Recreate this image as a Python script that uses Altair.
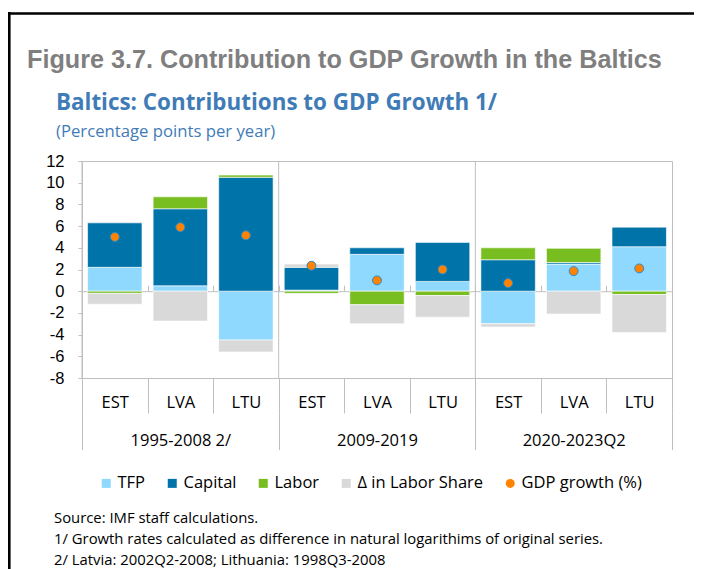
import altair as alt
import pandas as pd

# ---------------- data ----------------
periods = ["1995-2008 2/", "2009-2019", "2020-2023Q2"]
countries = ["EST", "LVA", "LTU"]
tfp = [2.2, 0.5, -4.5, 0.1, 3.4, 0.9, -3.0, 2.5, 4.1]
capital = [4.1, 7.1, 10.5, 2.1, 0.6, 3.6, 2.9, 0.15, 1.8]
labor = [-0.2, 1.1, 0.2, -0.2, -1.25, -0.4, 1.1, 1.3, -0.3]
labor_share = [-1.0, -2.75, -1.1, 0.3, -1.75, -2.0, -0.3, -2.1, -3.5]
gdp_growth = [5.0, 5.9, 5.15, 2.35, 1.0, 2.0, 0.75, 1.85, 2.1]

series_names = ["TFP", "Capital", "Labor", "Δ in Labor Share"]
gdp_name = "GDP growth (%)"
colors = ["#8FD9FF", "#0073A8", "#78BE20", "#D9D9D9", "#FF8200"]
y_ticks = [-8, -6, -4, -2, 0, 2, 4, 6, 8, 10, 12]

title_text = "Figure 3.7. Contribution to GDP Growth in the Baltics"
subtitle_text = "Baltics: Contributions to GDP Growth 1/"
units_text = "(Percentage points per year)"
notes = [
    "Source: IMF staff calculations.",
    "1/ Growth rates calculated as difference in natural logarithims of original series.",
    "2/ Latvia: 2002Q2-2008; Lithuania: 1998Q3-2008",
]

# ---------------- tables ----------------
keys = [f"{p}|{c}" for p in periods for c in countries]
rows = []
for s_idx, (name, vals) in enumerate(zip(series_names, [tfp, capital, labor, labor_share])):
    for k, v in zip(keys, vals):
        rows.append({"key": k, "series": name, "value": v, "ord": s_idx})
bars_df = pd.DataFrame(rows)
gdp_df = pd.DataFrame({"key": keys, "gdp": gdp_growth, "series": [gdp_name] * len(keys)})
period_df = pd.DataFrame({"period": periods})

GRAY = "#BFBFBF"
SEGOE = "Open Sans"
legend_domain = series_names + [gdp_name]
color_scale = alt.Scale(domain=legend_domain, range=colors)
shape_scale = alt.Scale(domain=legend_domain, range=["square"] * 4 + ["circle"])
xband = alt.Scale(type="band", paddingInner=0, paddingOuter=0)
yscale = alt.Scale(domain=[-8, 12], nice=False, zero=False)

legend = alt.Legend(
    title=None, orient="none", legendX=16, legendY=314, direction="horizontal",
    symbolSize=81, symbolStrokeWidth=0, labelFont=SEGOE, labelFontSize=16.5,
    labelColor="black", labelOffset=3, columnPadding=18, padding=0,
)

y_axis = alt.Axis(values=y_ticks, tickCount=11, labelExpr="'' + datum.value", grid=False,
                  domain=False, tickColor=GRAY, tickSize=4, labelPadding=14,
                  labelOverlap=False, labelFont="Liberation Sans",
                  labelFontSize=16.5, labelColor="black")

bars = alt.Chart(bars_df).mark_bar(
    width=alt.RelativeBandSize(0.83), stroke="white", strokeWidth=0.6
).encode(
    x=alt.X("key:N", sort=keys, scale=xband, title=None,
            axis=alt.Axis(orient="bottom", tickBand="extent", tickSize=35, tickColor=GRAY,
                          domainColor=GRAY, labelExpr="split(datum.label, '|')[1]",
                          labelFont=SEGOE, labelFontSize=16.5, labelColor="black",
                          labelBaseline="middle", labelPadding=-11, labelAngle=0,
                          labelOverlap=False, grid=False)),
    y=alt.Y("value:Q", stack="zero", scale=yscale, title=None, axis=y_axis),
    color=alt.Color("series:N", scale=color_scale, legend=legend),
    order=alt.Order("ord:Q"),
)

period_rules = alt.Chart(period_df).mark_rule(color=GRAY, strokeWidth=1).encode(
    x=alt.X("period:N", sort=periods, bandPosition=0,
            scale=alt.Scale(type="band", paddingInner=0, paddingOuter=0), title=None,
            axis=alt.Axis(orient="bottom", offset=35, tickBand="extent", tickSize=36.6,
                          tickColor=GRAY, domain=False, labelFont=SEGOE, labelFontSize=16.5,
                          labelColor="black", labelBaseline="middle", labelPadding=-9.3,
                          labelAngle=0, labelOverlap=False, grid=False)),
)

points = alt.Chart(gdp_df).mark_point(
    filled=True, size=80, stroke="#2A8BD0", strokeWidth=1, opacity=1
).encode(
    x=alt.X("key:N", sort=keys, scale=xband, title=None,
            axis=alt.Axis(orient="top", offset=-130.2, tickBand="extent", tickSize=6,
                          tickColor=GRAY, domainColor=GRAY, labels=False, grid=False)),
    y=alt.Y("gdp:Q", scale=yscale, title=None, axis=y_axis),
    color=alt.Color("series:N", scale=color_scale, legend=legend),
    shape=alt.Shape("series:N", scale=shape_scale, legend=legend),
)


def text_mark(text, x, y, **kw):
    return alt.Chart(pd.DataFrame({"t": [text]})).mark_text(
        align="left", baseline="alphabetic", **kw
    ).encode(x=alt.value(x), y=alt.value(y), text="t:N")


title = text_mark(title_text, -55, -93, font="Liberation Sans", fontSize=25.2,
                  fontWeight="bold", color="#7F7F7F")
subtitle = text_mark(subtitle_text, -26, -51, font=SEGOE, fontSize=22.4,
                     fontWeight="bold", color="#3F7CB7")
units = text_mark(units_text, -26, -24, font=SEGOE, fontSize=16.7, color="#3F7CB7")
note_marks = [
    text_mark(n, -28, 362 + 21 * i, font=SEGOE, fontSize=14.85, color="black")
    for i, n in enumerate(notes)
]

frame_df = pd.DataFrame({"a": [0]})
frame_left = alt.Chart(frame_df).mark_rule(color="black", strokeWidth=2.6).encode(
    x=alt.value(-72.7), y=alt.value(-149), y2=alt.value(408))
frame_top = alt.Chart(frame_df).mark_rule(color="black", strokeWidth=2.6).encode(
    x=alt.value(-74), x2=alt.value(612), y=alt.value(-147.5))

chart = alt.layer(
    bars, period_rules, points, title, subtitle, units, *note_marks, frame_left, frame_top
).resolve_scale(x="independent").resolve_axis(x="independent").properties(
    width=590, height=217,
    autosize=alt.AutoSizeParams(type="none"),
    padding={"left": 74, "top": 153, "right": 22, "bottom": 191},
    background="white",
).configure_view(stroke=GRAY, strokeWidth=1)

chart.save("out.html", embed_options={"renderer": "svg", "actions": False})
